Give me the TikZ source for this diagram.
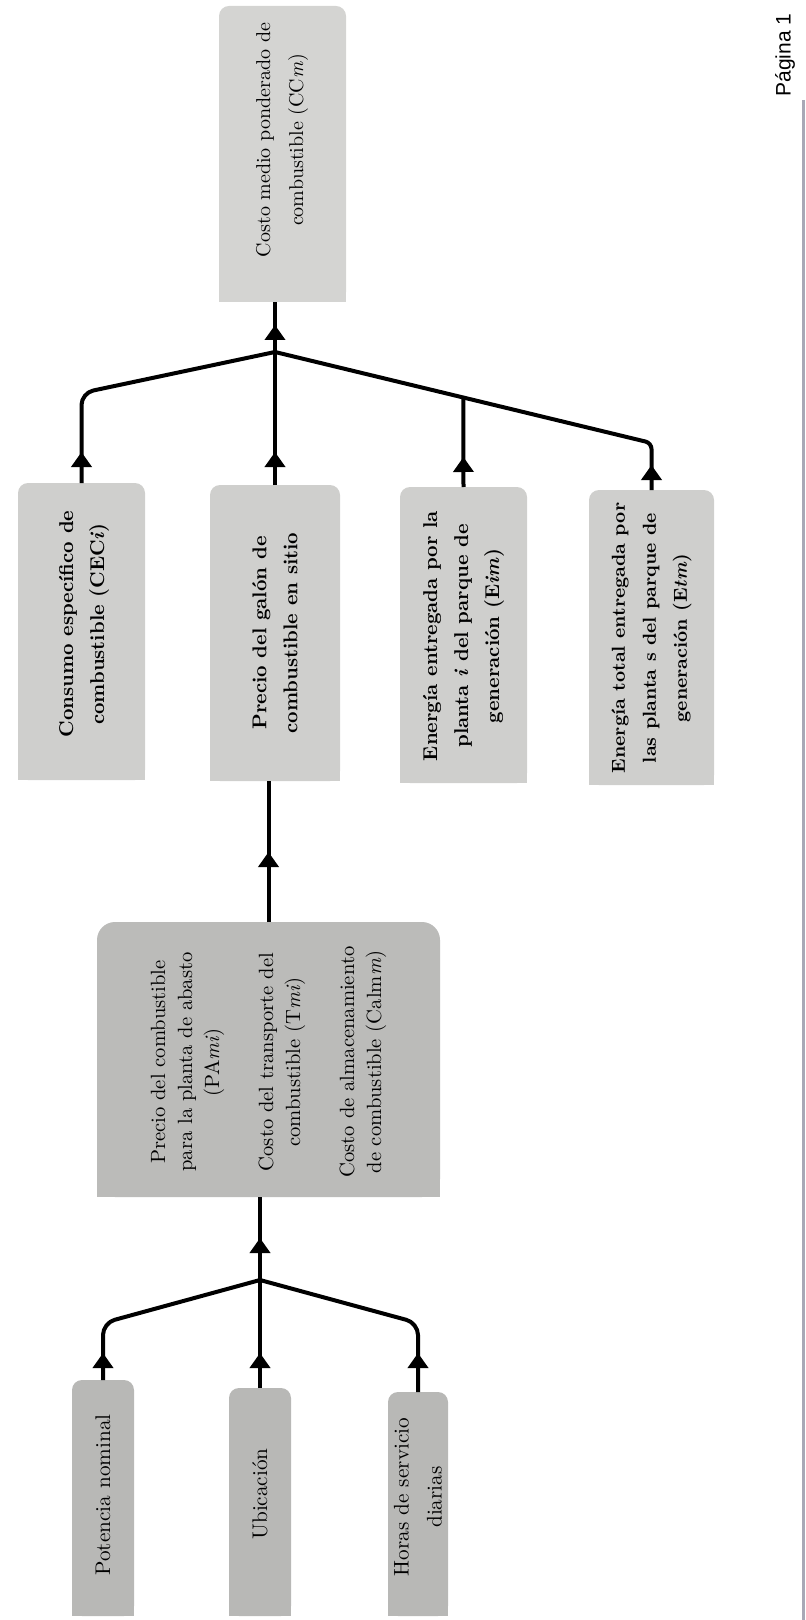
\documentclass[tikz,border=0pt]{standalone}
\usepackage{fontspec}
\usepackage{graphicx}
\newfontfamily\arialf{Liberation Sans}
\usetikzlibrary{arrows.meta,decorations.markings,backgrounds,calc}
\definecolor{cTop}{HTML}{D4D4D2}
\definecolor{cRow}{HTML}{CFCFCD}
\definecolor{cMid}{HTML}{BBBBB9}
\definecolor{cBot}{HTML}{B8B8B6}
\definecolor{cEdge}{HTML}{A8A8B6}
\tikzset{
  boxnode/.style={draw=none, fill=none, inner sep=0pt, outer sep=0pt},
  lbl/.style={rotate=90, align=center, inner sep=0pt},
  toptxt/.style={lbl, font=\fontsize{10}{16.5}\selectfont},
  rowtxt/.style={lbl, font=\bfseries\fontsize{10}{15.5}\selectfont},
  rowtxtsm/.style={lbl, font=\bfseries\fontsize{9.4}{15.5}\selectfont},
  midtxt/.style={lbl, font=\fontsize{10.3}{13.5}\selectfont},
  bottxt/.style={lbl, font=\fontsize{10.6}{16.5}\selectfont},
  lnk/.style={line width=2pt, line join=round, line cap=butt},
  midarrow/.style={postaction={decorate, decoration={markings,
      mark=at position #1 with {\arrow{Triangle[length=7.5pt,width=10pt]}}}}}
}
\begin{document}
\begin{tikzpicture}[x=0.5pt, y=-0.5pt]
\useasboundingbox (0,0) rectangle (806,1620);

% boxes
\node[boxnode, minimum width=63.5pt, minimum height=148pt] (top) at (282.5,154) {};
\node[boxnode, minimum width=63.5pt, minimum height=148.5pt] (b1) at (81.5,631.5) {};
\node[boxnode, minimum width=65pt, minimum height=148pt] (b2) at (275,633) {};
\node[boxnode, minimum width=63.5pt, minimum height=148pt] (b3) at (463.5,635) {};
\node[boxnode, minimum width=62.5pt, minimum height=147.5pt] (b4) at (651.5,637.5) {};
\node[boxnode, minimum width=171.5pt, minimum height=137.5pt] (mid) at (268.5,1059.5) {};
\node[boxnode, minimum width=31pt, minimum height=118pt] (P) at (103,1498) {};
\node[boxnode, minimum width=31pt, minimum height=114pt] (U) at (260,1502) {};
\node[boxnode, minimum width=30pt, minimum height=112pt] (H) at (418,1504) {};

\begin{scope}[on background layer]
\foreach \n/\c/\r in {top/cTop/5pt, b1/cRow/5pt, b2/cRow/5pt, b3/cRow/5pt, b4/cRow/5pt,
                      mid/cMid/9pt, P/cBot/5pt, U/cBot/5pt, H/cBot/5pt}{
  \fill[\c, rounded corners=\r] (\n.south west) rectangle (\n.north east);
  \fill[\c] (\n.south west) rectangle (\n.east);
}
\end{scope}

% texts
\node[toptxt] (topT) at (282,140) {Costo medio ponderado de\\combustible (CC\textit{m})};
\node[rowtxt] (b1T) at (84,624) {Consumo específico de\\combustible (CEC\textit{i})};
\node[rowtxt] (b2T) at (275,633) {Precio del galón de\\combustible en sitio};
\node[rowtxt] (b3T) at (463.5,636) {Energía entregada por la\\planta \textit{i} del parque de\\generación (E\textit{im})};
\node[rowtxtsm] (b4T) at (651.5,638) {Energía total entregada por\\las planta s del parque de\\generación (E\textit{tm})};
\node[midtxt] (midT) at (268.5,1062) {Precio del combustible\\para la planta de abasto\\(PA\textit{mi})\\[13.5pt]
Costo del transporte del\\combustible (T\textit{mi})\\[13.5pt]
Costo de almacenamiento\\de combustible (Calm\textit{m})};
\node[bottxt] (PT) at (103,1495) {Potencia nominal};
\node[bottxt] (UT) at (260,1494) {Ubicación};
\node[bottxt] (HT) at (418,1497) {Horas de servicio\\diarias};

\node[rotate=90, inner sep=0pt, font=\arialf\fontsize{10.5}{12}\selectfont] (pg) at (785,55) {Página 1};
\draw[cEdge, line width=1.5pt] (803,100) -- (803,1620);

% junctions
\coordinate (J1) at (275,352);
\coordinate (E1) at (81.5,393);
\coordinate (E4) at (651.5,443);
\coordinate (J3) at ($(J1)!0.5!(E4)$);
\coordinate (J2) at (260,1280);
\coordinate (E5) at (103,1323);
\coordinate (E6) at (418,1323);

% connectors (upper tree)
\draw[lnk, midarrow=13.5pt] (J1) -- (J1 |- top.south);
\draw[lnk, rounded corners=6pt, midarrow=15.5pt] (b1.north) -- (E1) -- (J1);
\draw[lnk, midarrow=16.5pt] (b2.north) -- (J1);
\draw[lnk, midarrow=15pt] (b3.north) -- (J3);
\draw[lnk, rounded corners=3pt, midarrow=12.5pt] (b4.north) -- (E4) -- (J1);

% middle link
\draw[lnk, midarrow=35pt] (mid.north) -- (mid.north |- b2.south);

% lower tree
\draw[lnk, midarrow=21pt] (J2) -- (J2 |- mid.south);
\draw[lnk, rounded corners=6pt, midarrow=13.5pt] (P.north) -- (E5) -- (J2);
\draw[lnk, midarrow=17.5pt] (U.north) -- (J2);
\draw[lnk, rounded corners=6pt, midarrow=19.5pt] (H.north) -- (E6) -- (J2);
\end{tikzpicture}
\end{document}
